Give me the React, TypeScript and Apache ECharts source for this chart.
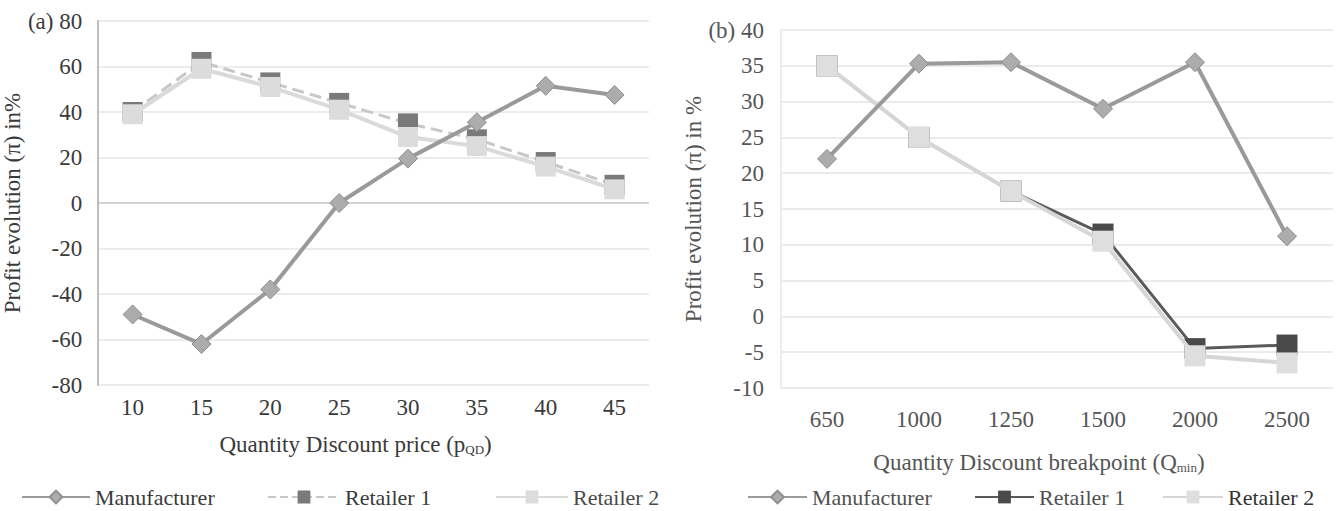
import React, { useEffect, useRef } from "react";
import * as echarts from "echarts";

// ---- data ----
const catsA = ["10", "15", "20", "25", "30", "35", "40", "45"];
const manA = [-49, -62, -38, 0, 19.5, 35.5, 51.5, 47.5];
const ret1A = [40, 62, 53, 44, 35, 28, 18, 8];
const ret2A = [39, 59, 51, 41, 29, 25, 16, 6];

const catsB = ["650", "1000", "1250", "1500", "2000", "2500"];
const manB = [22, 35.3, 35.5, 29, 35.5, 11.2];
const ret1B = [35, 25, 17.5, 11.5, -4.5, -4];
const ret2B = [35, 25, 17.5, 10.5, -5.5, -6.5];

const yRangeA = { min: -80, max: 80, step: 20 };
const yRangeB = { min: -10, max: 40, step: 5 };

const seriesNames = ["Manufacturer", "Retailer 1", "Retailer 2"];

const FONT = '"Liberation Serif", "Times New Roman", serif';

export default function App() {
  const ref = useRef<HTMLDivElement>(null);
  useEffect(() => {
    if (!ref.current) return;
    const chart = echarts.init(ref.current, undefined, { renderer: "svg" });
    const txtA = "#3a3a3a";
    const txtB = "#555555";
    const gridColorsA: string[] = [];
    for (let v = yRangeA.min; v <= yRangeA.max; v += yRangeA.step) {
      gridColorsA.push(v === 0 ? "#c4c4c4" : "#e6e6e6");
    }
    const bName = (n: string) => n + " (b)";
    const styles = {
      man: { line: "#9a9a9a", fill: "#acacac", border: "#8e8e8e" },
      r1A: { line: "#c8c8c8", fill: "#7a7a7a" },
      r2A: { line: "#dadada", fill: "#dcdcdc" },
      r1B: { line: "#5a5a5a", fill: "#4a4a4a" },
      r2B: { line: "#d6d6d6", fill: "#dedede" },
    };
    const legendText = (c: string) => ({ fontSize: 22, fontFamily: FONT, color: c });
    const LT = 481;
    const option: any = {
      animation: false,
      backgroundColor: "#ffffff",
      grid: [
        { left: 88, top: 21, width: 561, height: 364 },
        { left: 781, top: 30, width: 552, height: 358 },
      ],
      xAxis: [
        {
          type: "category",
          gridIndex: 0,
          data: catsA,
          axisLine: { show: false },
          axisTick: { show: false },
          axisLabel: { margin: 11, fontSize: 23, fontFamily: FONT, color: txtA },
          name: "Quantity Discount price (p{sub|QD})",
          nameLocation: "middle",
          nameGap: 48,
          nameTextStyle: {
            fontSize: 23,
            fontFamily: FONT,
            color: txtA,
            padding: [0, 36, 0, 0],
            rich: { sub: { fontSize: 13, fontFamily: FONT, color: txtA, padding: [10, 0, 0, 0] } },
          },
        },
        {
          type: "category",
          gridIndex: 1,
          data: catsB,
          axisLine: { show: false },
          axisTick: { show: false },
          axisLabel: { margin: 20, fontSize: 23, fontFamily: FONT, color: txtB },
          name: "Quantity Discount breakpoint (Q{sub|min})",
          nameLocation: "middle",
          nameGap: 63,
          nameTextStyle: {
            fontSize: 23,
            fontFamily: FONT,
            color: txtB,
            padding: [0, 36, 0, 0],
            rich: { sub: { fontSize: 13, fontFamily: FONT, color: txtB, padding: [10, 0, 0, 0] } },
          },
        },
      ],
      yAxis: [
        {
          type: "value",
          gridIndex: 0,
          min: yRangeA.min,
          max: yRangeA.max,
          interval: yRangeA.step,
          axisLine: { show: true, lineStyle: { color: "#bdbdbd", width: 2 } },
          axisTick: { show: false },
          splitLine: { lineStyle: { color: gridColorsA, width: 1.5 } },
          axisLabel: {
            margin: 16,
            fontSize: 23,
            fontFamily: FONT,
            color: txtA,
            formatter: (v: number) => (v === yRangeA.max ? "(a) " + v : String(v)),
          },
          name: "Profit evolution (π) in%",
          nameLocation: "middle",
          nameGap: 57,
          nameTextStyle: { fontSize: 23, fontFamily: FONT, color: txtA },
        },
        {
          type: "value",
          gridIndex: 1,
          min: yRangeB.min,
          max: yRangeB.max,
          interval: yRangeB.step,
          axisLine: { show: true, lineStyle: { color: "#ececec", width: 2 } },
          axisTick: { show: false },
          splitLine: { lineStyle: { color: "#e4e4e4", width: 1.5 } },
          axisLabel: {
            margin: 17,
            fontSize: 23,
            fontFamily: FONT,
            color: txtB,
            formatter: (v: number) => (v === yRangeB.max ? "(b) " + v : String(v)),
          },
          name: "Profit evolution (π) in %",
          nameLocation: "middle",
          nameGap: 53,
          nameTextStyle: { fontSize: 23, fontFamily: FONT, color: txtB },
        },
      ],
      legend: [
        { left: 16, top: LT, itemWidth: 68, itemHeight: 16, data: [seriesNames[0]], textStyle: legendText("#3a3a3a") },
        { left: 262, top: LT, itemWidth: 72, itemHeight: 16, data: [seriesNames[1]], textStyle: legendText("#3a3a3a") },
        { left: 490, top: LT, itemWidth: 72, itemHeight: 16, data: [seriesNames[2]], textStyle: legendText("#4a4a4a") },
        { left: 742, top: LT, itemWidth: 59, itemHeight: 16, data: [bName(seriesNames[0])], formatter: () => seriesNames[0], textStyle: legendText("#505050") },
        { left: 969, top: LT, itemWidth: 59, itemHeight: 16, data: [bName(seriesNames[1])], formatter: () => seriesNames[1], textStyle: legendText("#505050") },
        { left: 1157, top: LT, itemWidth: 60, itemHeight: 16, data: [bName(seriesNames[2])], formatter: () => seriesNames[2], textStyle: legendText("#333333") },
      ],
      series: [
        {
          name: seriesNames[0], type: "line", xAxisIndex: 0, yAxisIndex: 0, data: manA, z: 4,
          symbol: "diamond", symbolSize: 19,
          lineStyle: { color: styles.man.line, width: 4 },
          itemStyle: { color: styles.man.fill, borderColor: styles.man.border, borderWidth: 1 },
        },
        {
          name: seriesNames[1], type: "line", xAxisIndex: 0, yAxisIndex: 0, data: ret1A, z: 2,
          symbol: "rect", symbolSize: 20,
          lineStyle: { color: styles.r1A.line, width: 3, type: "dashed" },
          itemStyle: { color: styles.r1A.fill },
        },
        {
          name: seriesNames[2], type: "line", xAxisIndex: 0, yAxisIndex: 0, data: ret2A, z: 3,
          symbol: "rect", symbolSize: 20,
          lineStyle: { color: styles.r2A.line, width: 4 },
          itemStyle: { color: styles.r2A.fill },
        },
        {
          name: bName(seriesNames[0]), type: "line", xAxisIndex: 1, yAxisIndex: 1, data: manB, z: 4,
          symbol: "diamond", symbolSize: 19,
          lineStyle: { color: styles.man.line, width: 4 },
          itemStyle: { color: styles.man.fill, borderColor: styles.man.border, borderWidth: 1 },
        },
        {
          name: bName(seriesNames[1]), type: "line", xAxisIndex: 1, yAxisIndex: 1, data: ret1B, z: 2,
          symbol: "rect", symbolSize: 21,
          lineStyle: { color: styles.r1B.line, width: 3 },
          itemStyle: { color: styles.r1B.fill },
        },
        {
          name: bName(seriesNames[2]), type: "line", xAxisIndex: 1, yAxisIndex: 1, data: ret2B, z: 3,
          symbol: "rect", symbolSize: 21,
          lineStyle: { color: styles.r2B.line, width: 4 },
          itemStyle: { color: styles.r2B.fill },
        },
      ],
    };
    chart.setOption(option);
    return () => chart.dispose();
  }, []);
  return (
    <div
      ref={ref}
      style={{ position: "absolute", left: 0, top: 0, width: 1339, height: 511, background: "#fff" }}
    />
  );
}
